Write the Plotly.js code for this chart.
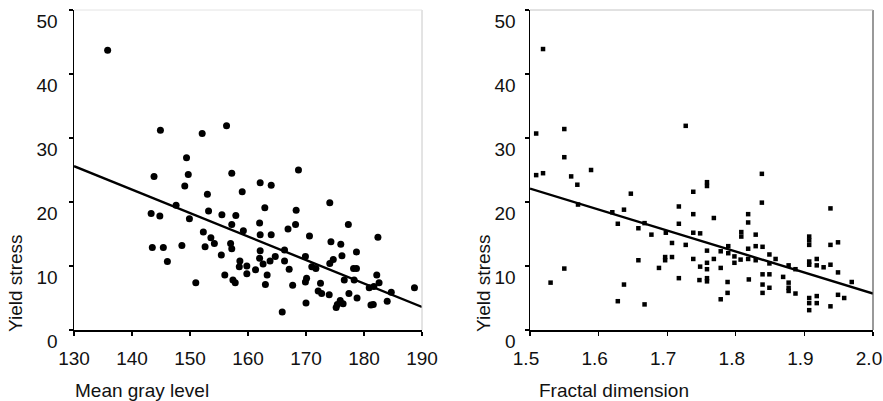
<!DOCTYPE html>
<html>
<head>
<meta charset="utf-8">
<script src="https://cdn.plot.ly/plotly-3.0.1.min.js"></script>
<style>html,body{margin:0;padding:0;background:#fff;}#chart{width:883px;height:401px;}</style>
</head>
<body>
<div id="chart"></div>
<script>
// Left panel: mean gray level vs yield stress
const grayX = [135.8,144.9,152.1,156.3,149.4,143.8,149.7,157.2,149.1,153.0,159.0,162.1,164.0,168.7,147.6,143.3,144.8,149.9,153.2,155.5,157.9,157.2,159.2,162.0,152.3,153.6,154.2,143.5,145.4,148.6,152.6,157.0,157.2,146.1,155.4,158.6,158.5,159.8,159.8,161.3,162.0,156.0,157.4,157.8,151.0,168.2,166.9,177.3,162.1,164.0,170.6,182.4,174.3,176.0,162.1,166.3,178.7,169.9,176.2,174.7,174.1,163.8,164.7,162.6,163.3,163.0,166.3,167.1,171.0,171.7,170.1,169.9,167.7,172.5,172.1,172.7,174.0,176.6,178.2,178.7,178.3,182.2,182.6,180.9,181.7,184.7,188.7,177.4,178.8,175.9,175.2,175.4,176.4,170.0,181.2,181.6,184.0,165.9,174.1,162.9,168.3];
const grayY = [43.7,31.2,30.7,31.9,26.9,24.0,24.3,24.5,22.5,21.2,21.6,23.0,22.6,25.0,19.5,18.2,17.8,17.4,18.6,18.0,17.9,16.5,15.5,16.7,15.3,14.4,13.5,12.9,12.9,13.2,13.0,13.5,12.7,10.7,11.7,10.8,9.9,10.0,8.8,9.4,11.2,8.6,7.8,7.4,7.4,16.5,15.8,16.5,14.9,14.9,14.7,14.5,13.8,13.4,12.4,12.5,12.2,11.5,11.6,11.0,10.4,10.8,11.5,10.3,8.6,7.1,10.8,9.5,9.9,9.6,8.1,7.5,7.0,7.3,6.1,5.7,5.5,7.8,9.6,9.6,7.8,8.6,7.4,6.6,6.8,5.9,6.6,5.7,5.0,4.6,3.5,4.0,4.1,4.2,3.9,4.0,4.5,2.8,19.9,19.1,18.7];
const grayLineX = [130, 190];
const grayLineY = [25.6, 3.6];

// Right panel: fractal dimension vs yield stress
const fracX = [1.519,1.509,1.550,1.550,1.509,1.519,1.560,1.569,1.589,1.647,1.570,1.530,1.550,1.620,1.628,1.637,1.658,1.667,1.677,1.698,1.707,1.717,1.717,1.717,1.658,1.697,1.697,1.707,1.688,1.637,1.628,1.667,1.727,1.838,1.758,1.758,1.738,1.838,1.938,1.738,1.768,1.818,1.818,1.738,1.748,1.808,1.808,1.829,1.727,1.789,1.818,1.829,1.839,1.738,1.758,1.768,1.778,1.778,1.789,1.798,1.798,1.807,1.748,1.758,1.758,1.818,1.829,1.849,1.858,1.849,1.877,1.887,1.747,1.758,1.758,1.788,1.819,1.839,1.849,1.869,1.877,1.877,1.877,1.887,1.839,1.849,1.839,1.788,1.778,1.907,1.907,1.907,1.907,1.907,1.918,1.918,1.928,1.938,1.938,1.949,1.949,1.969,1.949,1.958,1.938,1.907,1.907,1.918,1.918,1.907];
const fracY = [43.9,30.7,31.4,27.0,24.2,24.5,24.0,22.7,25.0,21.3,19.6,7.4,9.6,18.4,16.6,18.8,15.9,16.7,14.9,15.2,13.6,19.3,16.6,8.1,10.9,11.4,10.9,11.4,9.7,7.1,4.5,4.0,31.9,24.4,23.1,22.5,21.6,19.9,19.0,18.1,17.5,18.1,16.8,15.2,15.1,15.3,14.6,14.9,13.3,13.1,12.7,13.1,13.0,11.1,12.4,11.1,12.3,9.7,12.0,11.5,10.5,11.0,9.9,10.5,9.5,11.1,10.9,11.8,11.1,10.4,10.1,9.5,7.8,8.1,7.6,7.5,7.9,8.7,8.7,8.3,7.4,6.6,6.1,5.7,7.1,6.6,5.8,5.8,4.8,14.6,14.0,13.3,10.7,10.2,11.1,10.1,9.8,10.2,13.3,13.7,9.0,7.5,5.5,5.0,3.7,5.0,4.2,5.3,4.2,3.1];
const fracLineX = [1.5, 2.0];
const fracLineY = [22.1, 5.7];

const yTicks = [0, 10, 20, 30, 40, 50];
const grayTicks = [130, 140, 150, 160, 170, 180, 190];
const fracTicks = [1.5, 1.6, 1.7, 1.8, 1.9, 2.0];
const fracTickText = ['1.5', '1.6', '1.7', '1.8', '1.9', '2.0'];

const W = 883;
const FONT = 'Liberation Sans, Arial, Helvetica, sans-serif';

const traces = [
  {x: grayX, y: grayY, type: 'scatter', mode: 'markers', xaxis: 'x', yaxis: 'y',
   marker: {symbol: 'circle', size: 7, color: '#000'}, hoverinfo: 'x+y'},
  {x: grayLineX, y: grayLineY, type: 'scatter', mode: 'lines', xaxis: 'x', yaxis: 'y',
   line: {color: '#000', width: 2.4}},
  {x: fracX, y: fracY, type: 'scatter', mode: 'markers', xaxis: 'x2', yaxis: 'y2',
   marker: {symbol: 'square', size: 4.5, color: '#000'}, hoverinfo: 'x+y'},
  {x: fracLineX, y: fracLineY, type: 'scatter', mode: 'lines', xaxis: 'x2', yaxis: 'y2',
   line: {color: '#000', width: 2.4}}
];

const axCommon = {
  showgrid: false, zeroline: false, showline: true, linecolor: '#000', linewidth: 1.5,
  ticks: 'outside', ticklen: 4, tickcolor: '#000', tickwidth: 1.2,
  ticklabeloverflow: 'allow',
  tickfont: {family: FONT, size: 19, color: '#111'}
};

const layout = {
  width: 883, height: 401,
  margin: {l: 0, r: 0, t: 10, b: 71},
  paper_bgcolor: '#fff', plot_bgcolor: '#fff',
  showlegend: false,
  xaxis: Object.assign({}, axCommon, {domain: [74/W, 422/W], range: [130, 190],
    tickvals: grayTicks, ticklabelstandoff: 7, anchor: 'y'}),
  yaxis: Object.assign({}, axCommon, {domain: [0, 1], range: [0, 50],
    tickvals: yTicks, ticklabelstandoff: 7, ticklabelshift: 11, anchor: 'x'}),
  xaxis2: Object.assign({}, axCommon, {domain: [530/W, 873/W], range: [1.5, 2.0],
    tickvals: fracTicks, ticktext: fracTickText, ticklabelstandoff: 7, ticklabelshift: -4,
    anchor: 'y2'}),
  yaxis2: Object.assign({}, axCommon, {domain: [0, 1], range: [0, 50],
    tickvals: yTicks, ticklabelstandoff: 5, ticklabelshift: 11, anchor: 'x2'}),
  shapes: [
    {type: 'line', xref: 'x domain', yref: 'y domain', x0: 1, x1: 1, y0: 0, y1: 1,
     line: {color: '#c8c8c8', width: 1}},
    {type: 'line', xref: 'x domain', yref: 'y domain', x0: 0, x1: 1, y0: 1, y1: 1,
     line: {color: '#e4e4e4', width: 1}},
    {type: 'line', xref: 'x2 domain', yref: 'y2 domain', x0: 1, x1: 1, y0: 0, y1: 1,
     line: {color: '#555', width: 1.2}},
    {type: 'line', xref: 'x2 domain', yref: 'y2 domain', x0: 0, x1: 1, y0: 1, y1: 1,
     line: {color: '#c4c4c4', width: 1}}
  ],
  annotations: [
    {text: 'Mean gray level', xref: 'paper', yref: 'paper', x: 73/W, y: -0.19,
     xanchor: 'left', yanchor: 'middle', showarrow: false,
     font: {family: FONT, size: 19, color: '#111'}},
    {text: 'Fractal dimension', xref: 'paper', yref: 'paper', x: 537/W, y: -0.19,
     xanchor: 'left', yanchor: 'middle', showarrow: false,
     font: {family: FONT, size: 19, color: '#111'}},
    {text: 'Yield stress', xref: 'paper', yref: 'paper', x: 16/W, y: 0.147,
     xanchor: 'center', yanchor: 'middle', textangle: -90, showarrow: false,
     font: {family: FONT, size: 19, color: '#111'}},
    {text: 'Yield stress', xref: 'paper', yref: 'paper', x: 484/W, y: 0.147,
     xanchor: 'center', yanchor: 'middle', textangle: -90, showarrow: false,
     font: {family: FONT, size: 19, color: '#111'}}
  ]
};

Plotly.newPlot('chart', traces, layout, {displayModeBar: false, staticPlot: true});
</script>
</body>
</html>
